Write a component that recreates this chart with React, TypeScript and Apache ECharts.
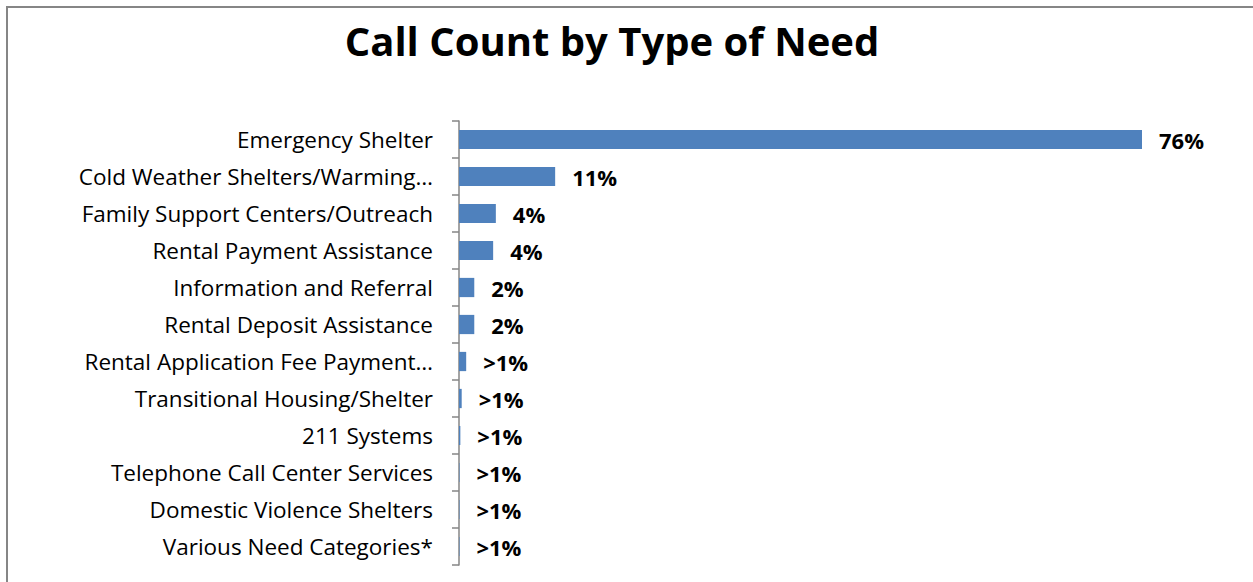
import React, { useEffect, useRef } from "react";
import * as echarts from "echarts";

const categories = [
  "Emergency Shelter",
  "Cold Weather Shelters/Warming…",
  "Family Support Centers/Outreach",
  "Rental Payment Assistance",
  "Information and Referral",
  "Rental Deposit Assistance",
  "Rental Application Fee Payment…",
  "Transitional Housing/Shelter",
  "211 Systems",
  "Telephone Call Center Services",
  "Domestic Violence Shelters",
  "Various Need Categories*",
];
const values = [76, 10.7, 4.1, 3.8, 1.7, 1.7, 0.8, 0.3, 0.15, 0.05, 0.05, 0.05];
const valueLabels = ["76%", "11%", "4%", "4%", "2%", "2%", ">1%", ">1%", ">1%", ">1%", ">1%", ">1%"];
const title = "Call Count by Type of Need";

export default function App() {
  const ref = useRef<HTMLDivElement>(null);
  useEffect(() => {
    if (!ref.current) return;
    const chart = echarts.init(ref.current, null, { renderer: "svg" });
    chart.setOption({
      animation: false,
      backgroundColor: "#ffffff",
      title: {
        text: title,
        left: 607,
        textAlign: "center",
        top: 15,
        textStyle: { fontFamily: "Open Sans", fontWeight: "bold", fontSize: 40, color: "#000" },
      },
      graphic: [
        {
          type: "rect",
          shape: { x: 7, y: 7, width: 1260, height: 600 },
          style: { fill: "none", stroke: "#868686", lineWidth: 2 },
          silent: true,
        },
      ],
      grid: { left: 459, right: 111, top: 121, bottom: 582 - 565, containLabel: false },
      xAxis: {
        type: "value",
        min: 0,
        max: 76,
        show: false,
      },
      yAxis: {
        type: "category",
        inverse: true,
        data: categories,
        axisLine: { show: true, lineStyle: { color: "#868686", width: 1.5 } },
        axisTick: { show: true, length: 7, alignWithLabel: false, lineStyle: { color: "#868686", width: 1.5 } },
        axisLabel: { fontFamily: "Open Sans", fontSize: 22.5, color: "#000", margin: 26 },
        splitLine: { show: false },
      },
      series: [
        {
          type: "bar",
          data: values,
          barCategoryGap: "48%",
          itemStyle: { color: "#4F81BD" },
          label: {
            show: true,
            position: "right",
            distance: 17,
            fontFamily: "Open Sans",
            fontWeight: "bold",
            fontSize: 22,
            color: "#000",
            formatter: (p: any) => valueLabels[p.dataIndex],
          },
        },
      ],
    });
    return () => chart.dispose();
  }, []);
  return (
    <div
      ref={ref}
      style={{ position: "fixed", left: 0, top: 0, width: 1253, height: 582 }}
    />
  );
}
